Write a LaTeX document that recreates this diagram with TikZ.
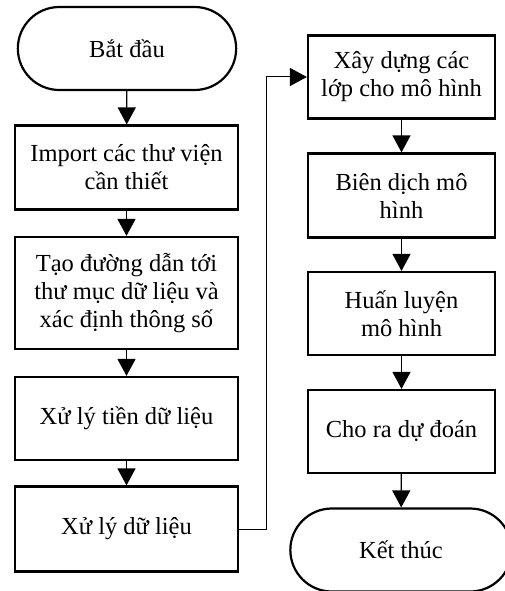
\documentclass[tikz,border=0pt]{standalone}
\usepackage{fontspec}
\setmainfont{Liberation Serif}
\usetikzlibrary{arrows.meta,shapes.misc}
\begin{document}
\begin{tikzpicture}[x=1pt, y=-1pt, font=\fontsize{24.5}{28}\selectfont,
  stepbox/.style={draw, line width=2.2pt, minimum width=223pt, minimum height=84pt, align=center, inner sep=2pt},
  termbox/.style={draw, line width=2.2pt, rounded rectangle, minimum height=83pt, align=center},
  flow/.style={line width=1.3pt, -{Triangle[width=18pt,length=17pt]}}]
  \useasboundingbox (0,0) rectangle (504,591);
  % left column
  \node[termbox, minimum width=225pt] (start) at (127,48.5) {Bắt đầu};
  \node[stepbox] (import) at (126.5,167.5) {Import các thư viện\\cần thiết};
  \node[stepbox, minimum height=112pt] (folder) at (126.5,293) {Tạo đường dẫn tới\\thư mục dữ liệu và\\xác định thông số};
  \node[stepbox, minimum height=83pt] (preproc) at (126.5,418.5) {Xử lý tiền dữ liệu};
  \node[stepbox, minimum height=85pt] (proc) at (126.5,529) {Xử lý dữ liệu};
  % right column
  \node[stepbox, minimum width=187pt, minimum height=83pt] (build) at (401.5,77) {Xây dựng các\\lớp cho mô hình};
  \node[stepbox, minimum width=187pt] (compile) at (401.5,195.5) {Biên dịch mô\\hình};
  \node[stepbox, minimum width=187pt, minimum height=83pt] (train) at (401.5,313.5) {Huấn luyện\\mô hình};
  \node[stepbox, minimum width=187pt, minimum height=83pt] (predict) at (401.5,431.5) {Cho ra dự đoán};
  \node[termbox, minimum width=228pt] (stop) at (401,550) {Kết thúc};
  % arrows
  \draw[flow] (start) -- (import);
  \draw[flow] (import) -- (folder);
  \draw[flow] (folder) -- (preproc);
  \draw[flow] (preproc) -- (proc);
  \draw[flow, line width=1pt] (proc.east) -- ++(27,0) |- (build.west);
  \draw[flow] (build) -- (compile);
  \draw[flow] (compile) -- (train);
  \draw[flow] (train) -- (predict);
  \draw[flow] (predict) -- (stop);
\end{tikzpicture}
\end{document}
